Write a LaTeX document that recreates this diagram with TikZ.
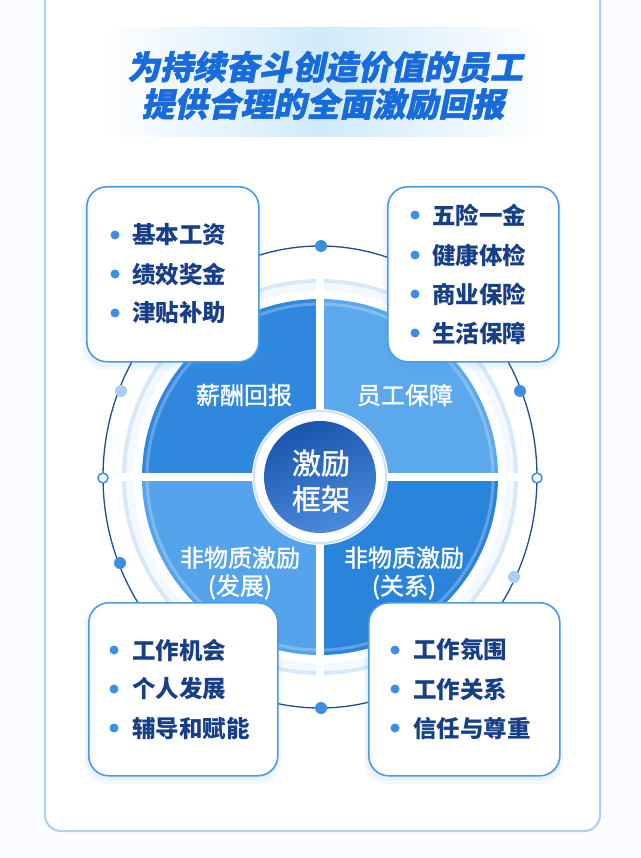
\documentclass[tikz,border=0pt]{standalone}
\usepackage{fontspec}
\newfontfamily\cjk{Noto Sans CJK SC}
\newfontfamily\cjkmed[FakeBold=1.2]{Noto Sans CJK SC}
\newfontfamily\cjktitle[FakeSlant=0.2,FakeBold=1.5]{Noto Sans CJK SC}
\usetikzlibrary{calc}
\definecolor{pagebg}{HTML}{FAFCFF}
\definecolor{frameblue}{HTML}{A9D2F5}
\definecolor{bannerblue}{HTML}{D0EAFA}
\definecolor{titleblue}{HTML}{176BDB}
\definecolor{ringnavy}{HTML}{1F4E8C}
\definecolor{dotblue}{HTML}{3A8FE0}
\definecolor{dotlight}{HTML}{A9CEF0}
\definecolor{boxblue}{HTML}{4A9BE6}
\definecolor{itemnavy}{HTML}{173F87}
\definecolor{bulletblue}{HTML}{3A8FE8}
\definecolor{qTL}{HTML}{2F88DE}
\definecolor{qTR}{HTML}{5CA8EC}
\definecolor{qBL}{HTML}{55A3EA}
\definecolor{qBR}{HTML}{2B84DC}
\definecolor{paleedge}{HTML}{D6E9FA}
\definecolor{palefill}{HTML}{F3F9FE}
\definecolor{coredark}{HTML}{1A55AD}
\definecolor{corelight}{HTML}{4A8ADB}
\definecolor{coreedge}{HTML}{CFE3F7}
\begin{document}
\begin{tikzpicture}[x=1pt,y=-1pt,
  titletext/.style={inner sep=0pt, text=titleblue, font=\cjktitle\bfseries\fontsize{33}{33}\selectfont},
  boxnode/.style={draw=boxblue, line width=1.6pt, rounded corners=20pt, fill=white, anchor=north west, inner sep=0pt},
  item/.style={anchor=west, inner sep=0pt, text=itemnavy, font=\cjk\bfseries\fontsize{23.5}{23.5}\selectfont},
  bullet/.style={circle, fill=bulletblue, inner sep=0pt, minimum size=9pt},
  qlabel/.style={inner sep=0pt, text=white, align=center, font=\cjkmed\fontsize{24}{28}\selectfont},
  dotdark/.style={circle, fill=dotblue, inner sep=0pt, minimum size=12pt},
  dotlite/.style={circle, fill=dotlight, inner sep=0pt, minimum size=12pt},
  dothollow/.style={circle, fill=white, draw=dotblue, line width=1.5pt, inner sep=0pt, minimum size=10pt},
  shadowbox/.style={fill=boxblue, opacity=0.06, rounded corners=22pt}
]
\useasboundingbox (0,0) rectangle (640,858);
\fill[pagebg] (0,0) rectangle (640,858);
% frame
\draw[frameblue, line width=2pt, rounded corners=16pt, fill=white] (45,-20) -- (45,831) -- (600,831) -- (600,-20);
% title banner
\shade[left color=white, right color=white, middle color=bannerblue] (100,28) rectangle (545,137);
\node[titletext] (t1) at (325,67) {为持续奋斗创造价值的员工};
\node[titletext] (t2) at (323,104) {提供合理的全面激励回报};

\coordinate (c) at (320,477);
% outer ring
\draw[ringnavy, line width=1.3pt] (c) ellipse [x radius=217pt, y radius=231pt];
% pale ring
\fill[paleedge] (c) circle (198pt);
\fill[palefill] (c) circle (194pt);
\fill[white] (c) circle (186pt);
% pie quadrants
\begin{scope}
  \clip (c) circle (178pt);
  \fill[qTL] (130,290) rectangle (320,477);
  \fill[qTR] (320,290) rectangle (510,477);
  \fill[qBL] (130,477) rectangle (320,670);
  \fill[qBR] (320,477) rectangle (510,670);
  \draw[white, opacity=0.25, line width=3pt] (c) circle (173pt);
\end{scope}
\fill[white] (316,278) rectangle (324,676);
\fill[white] (122,473) rectangle (518,481);
% centre
\fill[white] (c) circle (68pt);
\draw[coreedge, line width=2pt] (c) circle (66pt);
\shade[top color=coredark, bottom color=corelight, shading angle=20] (c) circle (56pt);
\node[inner sep=0pt, text=white, align=center, font=\cjkmed\fontsize{29}{36}\selectfont] (core) at (321,481) {激励\\框架};
% quadrant labels
\node[qlabel] (l1) at (244,395) {薪酬回报};
\node[qlabel] (l2) at (405,395) {员工保障};
\node[qlabel] (l3) at (240,573) {非物质激励\\(发展)};
\node[qlabel] (l4) at (404,573) {非物质激励\\(关系)};
% ring dots
\node[dotdark] (d1) at (321,246) {};
\node[dotdark] (d2) at (321,708) {};
\node[dothollow] (d3) at (103,478) {};
\node[dothollow] (d4) at (537,478) {};
\node[dotlite] (d5) at (121,391) {};
\node[dotdark] (d6) at (120,563) {};
\node[dotdark] (d7) at (520,391) {};
\node[dotlite] (d8) at (514,577) {};
% box shadows
\foreach \xa/\ya/\xb/\yb in {86/186/258/361, 387/186/558/361, 88/602/277/775, 368/602/559/775}{
  \fill[shadowbox] (\xa-4,\ya+2) rectangle (\xb+4,\yb+9);
  \fill[shadowbox] (\xa-2,\ya+2) rectangle (\xb+2,\yb+6);
}
% boxes
\node[boxnode, minimum width=172pt, minimum height=175pt] (b1) at (86,186) {};
\node[boxnode, minimum width=171pt, minimum height=175pt] (b2) at (387,186) {};
\node[boxnode, minimum width=189pt, minimum height=173pt] (b3) at (88,602) {};
\node[boxnode, minimum width=191pt, minimum height=173pt] (b4) at (368,602) {};
% box 1 items
\node[bullet] (p11) at (115,235) {}; \node[item] (i11) at (132,235) {基本工资};
\node[bullet] (p12) at (115,274) {}; \node[item] (i12) at (132,274) {绩效奖金};
\node[bullet] (p13) at (115,313) {}; \node[item] (i13) at (132,313) {津贴补助};
% box 2 items
\node[bullet] (p21) at (415,215) {}; \node[item] (i21) at (432,215) {五险一金};
\node[bullet] (p22) at (415,255) {}; \node[item] (i22) at (432,255) {健康体检};
\node[bullet] (p23) at (415,294) {}; \node[item] (i23) at (432,294) {商业保险};
\node[bullet] (p24) at (415,333) {}; \node[item] (i24) at (432,333) {生活保障};
% box 3 items
\node[bullet] (p31) at (114,650) {}; \node[item] (i31) at (132,650) {工作机会};
\node[bullet] (p32) at (114,689) {}; \node[item] (i32) at (132,689) {个人发展};
\node[bullet] (p33) at (114,728) {}; \node[item] (i33) at (132,728) {辅导和赋能};
% box 4 items
\node[bullet] (p41) at (395,650) {}; \node[item] (i41) at (413,650) {工作氛围};
\node[bullet] (p42) at (395,689) {}; \node[item] (i42) at (413,689) {工作关系};
\node[bullet] (p43) at (395,728) {}; \node[item] (i43) at (413,728) {信任与尊重};
\end{tikzpicture}
\end{document}
